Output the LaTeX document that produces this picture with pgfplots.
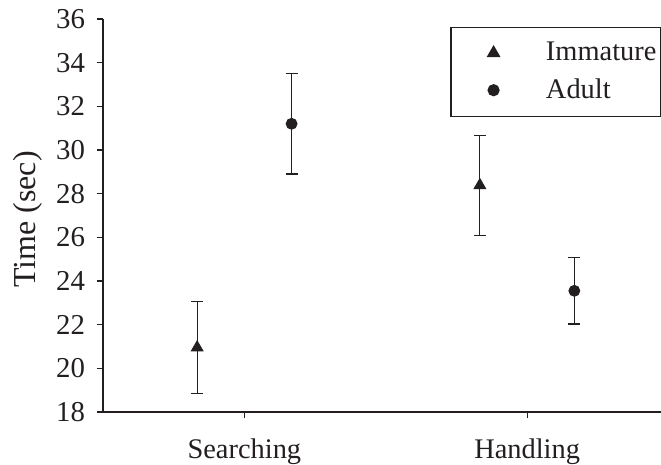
\documentclass[border=0pt]{standalone}
\usepackage{fontspec}
\setmainfont{Liberation Serif}
\usepackage{pgfplots}
\pgfplotsset{compat=1.18}
\definecolor{ink}{RGB}{35,31,32}
\begin{document}
\begin{tikzpicture}
\begin{axis}[
  name=ax,
  scale only axis,
  width=279pt, height=196.5pt,
  xmin=0.5, xmax=2.4735,
  ymin=18, ymax=36,
  ytick={18,20,...,36},
  xtick={1,2},
  xticklabels={Searching,Handling},
  axis x line*=bottom,
  axis y line*=left,
  axis line style={-, ink, line width=0.6pt},
  every tick/.style={ink, line width=0.6pt},
  tick align=outside,
  major tick length=3pt,
  /pgf/number format/assume math mode=true,
  ticklabel style={font=\fontsize{14.4}{17}\selectfont, text=ink},
  xticklabel style={yshift=-7pt, font=\fontsize{14.2}{17}\selectfont},
  yticklabel style={xshift=-2.5pt},
  ylabel={Time (sec)},
  ylabel style={font=\fontsize{16}{19}\selectfont, text=ink, at={(axis description cs:-0.134,0.49)}, anchor=center},
  clip=false,
  legend style={draw=ink, line width=0.6pt, at={(1,0.98)}, anchor=north east,
    inner xsep=0pt, inner ysep=5.4pt, font=\fontsize{14.2}{17}\selectfont,
    text=ink, row sep=3.5pt, column sep=0pt, cells={anchor=west}},
  legend image code/.code={\path (0pt,-3pt) (44.9pt,3pt); \draw[#1] plot coordinates {(21pt,0pt)};},
]
\addplot[only marks, mark=triangle*, mark size=3.4pt, ink, mark options={fill=ink, draw=ink},
  error bars/.cd, y dir=both, y explicit,
  error bar style={line width=0.6pt, ink},
  error mark options={rotate=90, mark size=3pt, line width=0.6pt, ink}]
  coordinates {(0.833,20.95) +- (0,2.1) (1.833,28.38) +- (0,2.28)};
\addlegendentry{Immature}
\addplot[only marks, mark=*, mark size=2.75pt, ink, mark options={fill=ink, draw=ink},
  error bars/.cd, y dir=both, y explicit,
  error bar style={line width=0.6pt, ink},
  error mark options={rotate=90, mark size=3pt, line width=0.6pt, ink}]
  coordinates {(1.167,31.2) +- (0,2.3) (2.167,23.55) +- (0,1.52)};
\addlegendentry{Adult}
\end{axis}
\pgfresetboundingbox
\path (ax.south west) ++(-51.5pt,-26.5pt) rectangle ++(330.5pt,232.5pt);
\end{tikzpicture}
\end{document}
